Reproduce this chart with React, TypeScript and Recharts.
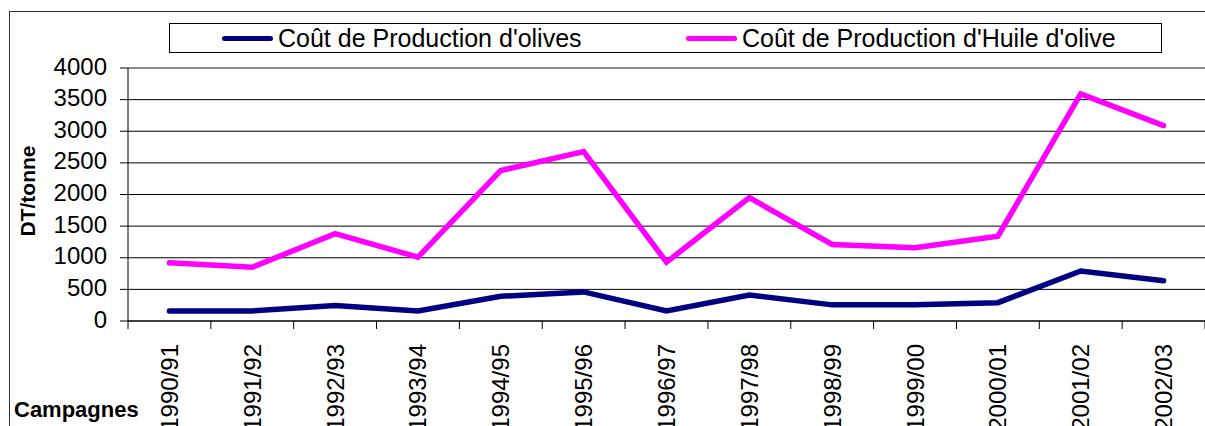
import { LineChart, Line, XAxis, YAxis, CartesianGrid, ReferenceLine } from "recharts";

const campagnes = [
  "1990/91", "1991/92", "1992/93", "1993/94", "1994/95", "1995/96", "1996/97",
  "1997/98", "1998/99", "1999/00", "2000/01", "2001/02", "2002/03",
];
// DT/tonne
const coutOlives = [160, 160, 245, 160, 390, 460, 160, 410, 255, 255, 290, 790, 635];
const coutHuile = [920, 850, 1380, 1010, 2380, 2680, 930, 1950, 1210, 1160, 1340, 3590, 3090];
const yTicks = [0, 500, 1000, 1500, 2000, 2500, 3000, 3500, 4000];

const series = [
  { key: "olives", name: "Coût de Production d'olives", color: "#000080" },
  { key: "huile", name: "Coût de Production d'Huile d'olive", color: "#FF00FF" },
];

const data = campagnes.map((c, i) => ({
  pos: i + 0.5,
  campagne: c,
  olives: coutOlives[i],
  huile: coutHuile[i],
}));

// tick marks sit on the band edges, labels in the band middles
const xTicks: number[] = [];
for (let i = 0; i <= campagnes.length * 2; i++) xTicks.push(i / 2);

const FONT = "'Liberation Sans', Arial, sans-serif";

const XTick = (props: any) => {
  const { x, y, payload } = props;
  const v = payload.value as number;
  if (Number.isInteger(v)) {
    return <line x1={x} y1={y} x2={x} y2={y + 8} stroke="#000" />;
  }
  const ty = y + 23;
  return (
    <text
      x={x}
      y={ty}
      transform={`rotate(-90 ${x} ${ty})`}
      textAnchor="end"
      dominantBaseline="central"
      fontSize={24}
      fontFamily={FONT}
      fill="#000"
    >
      {campagnes[Math.floor(v)]}
    </text>
  );
};

const legendLeft = [222, 686];

export default function App() {
  return (
    <div
      style={{
        position: "fixed",
        left: 0,
        top: 0,
        width: 1205,
        height: 426,
        overflow: "hidden",
        background: "#fff",
        fontFamily: FONT,
      }}
    >
      <div
        style={{
          position: "absolute",
          left: 9,
          top: 11,
          width: 1300,
          height: 500,
          border: "1.5px solid #333",
        }}
      />
      <div style={{ position: "absolute", left: 0, top: 0 }}>
        <LineChart
          width={1215}
          height={426}
          data={data}
          margin={{ top: 68, right: 10, bottom: 0, left: 0 }}
        >
          <CartesianGrid vertical={false} stroke="#000" />
          <ReferenceLine y={4000} stroke="#888" strokeWidth={2} />
          <XAxis
            type="number"
            dataKey="pos"
            domain={[0, campagnes.length]}
            ticks={xTicks}
            interval={0}
            height={105}
            tickSize={0}
            tickMargin={0}
            tickLine={false}
            tick={<XTick />}
            axisLine={{ stroke: "#000" }}
          />
          <YAxis
            type="number"
            domain={[0, 4000]}
            ticks={yTicks}
            interval={0}
            width={128}
            tickSize={8}
            tickMargin={13}
            tickLine={{ stroke: "#000" }}
            axisLine={{ stroke: "#000" }}
            tick={{ fontSize: 24, fill: "#000", fontFamily: FONT, dy: -2 }}
          />
          {series.map((s) => (
            <Line
              key={s.key}
              type="linear"
              dataKey={s.key}
              stroke={s.color}
              strokeWidth={5.5}
              strokeLinecap="round"
              dot={false}
              activeDot={false}
              isAnimationActive={false}
            />
          ))}
        </LineChart>
      </div>
      <div
        style={{
          position: "absolute",
          left: 169,
          top: 23,
          width: 993,
          height: 30,
          boxSizing: "border-box",
          border: "1px solid #000",
          background: "#fff",
        }}
      >
        {series.map((s, i) => (
          <div
            key={s.key}
            style={{
              position: "absolute",
              left: legendLeft[i] - 170,
              top: 0,
              height: 28,
              display: "flex",
              alignItems: "center",
              whiteSpace: "nowrap",
            }}
          >
            <span
              style={{
                display: "inline-block",
                width: 51,
                height: 5,
                borderRadius: 3,
                background: s.color,
                marginRight: 5,
              }}
            />
            <span style={{ fontSize: 25, lineHeight: "28px", color: "#000" }}>{s.name}</span>
          </div>
        ))}
      </div>
      <div
        style={{
          position: "absolute",
          left: 28,
          top: 191,
          transform: "translate(-50%, -50%) rotate(-90deg)",
          fontSize: 21,
          fontWeight: "bold",
          whiteSpace: "nowrap",
          lineHeight: "22px",
        }}
      >
        DT/tonne
      </div>
      <div
        style={{
          position: "absolute",
          left: 14,
          top: 399,
          fontSize: 22,
          fontWeight: "bold",
          lineHeight: "22px",
          whiteSpace: "nowrap",
        }}
      >
        Campagnes
      </div>
    </div>
  );
}
